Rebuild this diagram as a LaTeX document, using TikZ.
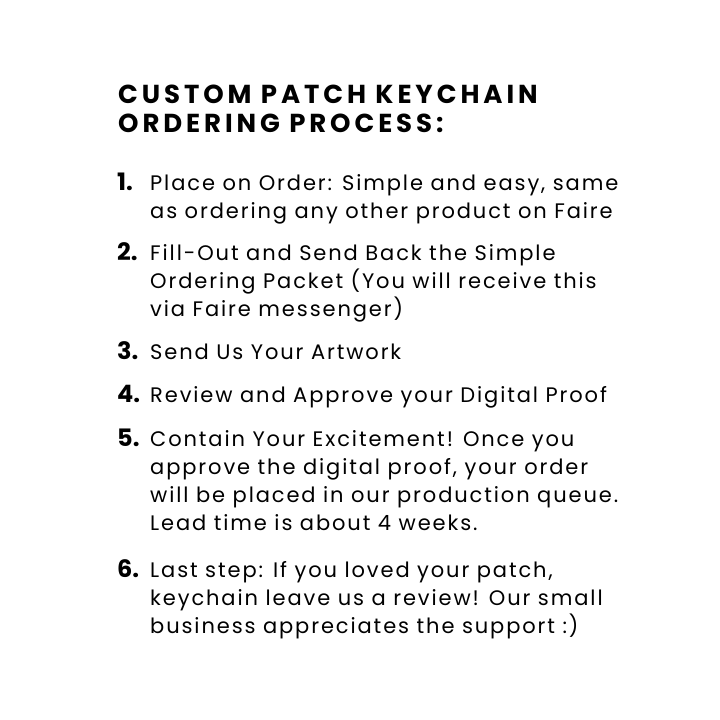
\documentclass[tikz,border=0pt]{standalone}
\usepackage{fontspec}
\setmainfont{Poppins}[LetterSpace=9]
\newfontfamily\titlefont{Poppins}[UprightFont=* Bold,LetterSpace=15]
\newfontfamily\numfont{Poppins}[UprightFont=* Bold]
\begin{document}
\begin{tikzpicture}[x=1pt,y=-1pt,
  ttl/.style={anchor=base west,inner sep=0pt,font=\titlefont\fontsize{26}{26}\selectfont},
  num/.style={anchor=base west,inner sep=0pt,font=\numfont\fontsize{24}{24}\selectfont},
  txt/.style={anchor=base west,inner sep=0pt,font=\fontsize{21}{21}\selectfont}]
\useasboundingbox[fill=white] (0,0) rectangle (720,720);
\node[ttl] (t1) at (118,103) {CUSTOM PATCH KEYCHAIN};
\node[ttl] (t2) at (118,132) {ORDERING PROCESS:};
\node[num] (n1) at (117,190) {1.};
\node[txt] (a1) at (150,190) {Place on Order: Simple and easy, same};
\node[txt] (a2) at (150,218) {as ordering any other product on Faire};
\node[num] (n2) at (117,260) {2.};
\node[txt] (b1) at (150,260) {Fill-Out and Send Back the Simple};
\node[txt] (b2) at (150,288) {Ordering Packet (You will receive this};
\node[txt] (b3) at (150,316) {via Faire messenger)};
\node[num] (n3) at (117,359) {3.};
\node[txt] (c1) at (150,359) {Send Us Your Artwork};
\node[num] (n4) at (117,402) {4.};
\node[txt] (d1) at (150,402) {Review and Approve your Digital Proof};
\node[num] (n5) at (117,446) {5.};
\node[txt] (e1) at (150,446) {Contain Your Excitement! Once you};
\node[txt] (e2) at (150,474) {approve the digital proof, your order};
\node[txt] (e3) at (150,502) {will be placed in our production queue.};
\node[txt] (e4) at (150,530) {Lead time is about 4 weeks.};
\node[num] (n6) at (117,577) {6.};
\node[txt] (f1) at (150,577) {Last step: If you loved your patch,};
\node[txt] (f2) at (150,605) {keychain leave us a review! Our small};
\node[txt] (f3) at (150,633) {business appreciates the support :)};
\end{tikzpicture}
\end{document}
